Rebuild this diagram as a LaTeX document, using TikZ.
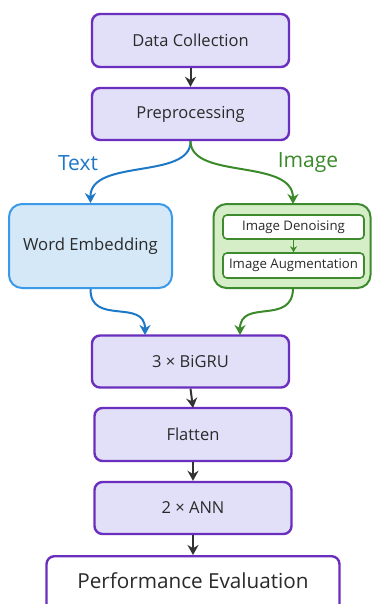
\documentclass[tikz,border=0pt]{standalone}
\usepackage{fontspec}
\setmainfont{Open Sans}
\usetikzlibrary{arrows.meta}
\definecolor{pborder}{HTML}{6A2FBF}
\definecolor{pfill}{HTML}{E2E0F8}
\definecolor{bborder}{HTML}{3A9AE8}
\definecolor{bfill}{HTML}{D5E8F8}
\definecolor{barrow}{HTML}{1E78C8}
\definecolor{gborder}{HTML}{3E8A2E}
\definecolor{gfill}{HTML}{D6EEC8}
\definecolor{garrow}{HTML}{3A8A2A}
\definecolor{darrow}{HTML}{333333}
\definecolor{txt}{HTML}{2A2A2A}
\tikzset{
  stagebox/.style={draw=pborder, fill=pfill, line width=2.4pt, rounded corners=8pt,
    text=txt, font=\fontsize{16.5}{19}\selectfont, inner sep=0pt},
  textbox/.style={draw=bborder, fill=bfill, line width=2pt, rounded corners=13pt,
    text=txt, font=\fontsize{16.7}{19}\selectfont, inner sep=0pt},
  imgbox/.style={draw=gborder, fill=gfill, line width=2pt, rounded corners=13pt, inner sep=0pt},
  subbox/.style={draw=gborder, fill=white, line width=1.6pt, rounded corners=4pt,
    text=txt, font=\fontsize{13.2}{15}\selectfont, inner sep=0pt},
  flow/.style={draw=darrow, line width=2pt, -{Stealth[length=10pt,width=11pt]}},
  tflow/.style={draw=barrow, line width=2pt, -{Stealth[length=10pt,width=11pt]}},
  iflow/.style={draw=garrow, line width=2pt, -{Stealth[length=10pt,width=11pt]}},
  sflow/.style={draw=garrow, line width=1.4pt, -{Stealth[length=6pt,width=7pt]}},
}
\begin{document}
\begin{tikzpicture}[x=1pt,y=-1pt]
\useasboundingbox (0,0) rectangle (372,604);
\fill[white] (0,0) rectangle (372,604);

% main column
\node[stagebox, minimum width=197pt, minimum height=53pt] (dc) at (190.5,40.5) {Data Collection};
\node[stagebox, minimum width=197pt, minimum height=52pt] (pp) at (190.5,114) {Preprocessing};

% text branch
\node[textbox, minimum width=163pt, minimum height=84pt] (we) at (90.5,246) {Word Embedding};

% image branch
\node[imgbox, minimum width=157pt, minimum height=84pt] (ib) at (292,246) {};
\node[subbox, minimum width=141pt, minimum height=24pt] (dn) at (293.5,227) {Image Denoising};
\node[subbox, minimum width=141pt, minimum height=25pt] (au) at (293.5,265.5) {Image Augmentation};

% model stages
\node[stagebox, minimum width=197pt, minimum height=52pt] (bg) at (190.5,361.5) {3 × BiGRU};
\node[stagebox, minimum width=197pt, minimum height=53pt] (fl) at (193,434.5) {Flatten};
\node[stagebox, minimum width=197pt, minimum height=52pt] (an) at (193,508) {2 × ANN};
\node[stagebox, fill=white, minimum width=293pt, minimum height=70pt, anchor=north] (pe) at (193,555) {};
\node[text=txt, font=\fontsize{20.7}{24}\selectfont] (pet) at (193,581) {Performance Evaluation};

% branch labels
\node[text=barrow, font=\fontsize{21}{24}\selectfont] (lt) at (78,163) {Text};
\node[text=garrow, font=\fontsize{21}{24}\selectfont] (li) at (308,163) {Image};

% connectors
\draw[flow] (dc.south) -- (pp.north);
\draw[tflow] (pp.south) .. controls (191,180) and (90,158) .. (we.north);
\draw[iflow] (pp.south) .. controls (191,180) and (293,158) .. (293,204);
\draw[sflow] (dn.south) -- (au.north);
\draw[tflow] (we.south) .. controls (90,326) and (145,298) .. (145,335);
\draw[iflow] (293,288) .. controls (293,326) and (240,298) .. (240,335);
\draw[flow] (bg.south) -- (193,408);
\draw[flow] (fl.south) -- (an.north);
\draw[flow] (an.south) -- (pe.north);
\end{tikzpicture}
\end{document}
